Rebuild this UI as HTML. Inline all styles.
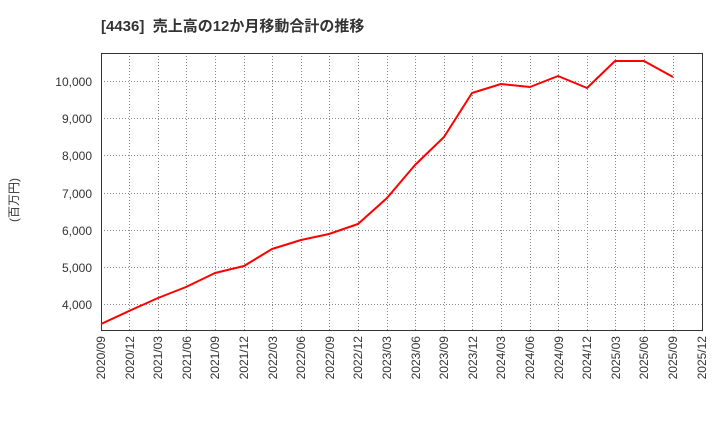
<!DOCTYPE html>
<html><head><meta charset="utf-8"><style>
body{margin:0;background:#fff;}
svg{display:block;font-family:"Liberation Sans","Noto Sans CJK JP",sans-serif;}
</style></head><body>
<svg width="720" height="440" viewBox="0 0 720 440">
<text x="101" y="31" font-size="15" font-weight="bold" fill="#333">[4436]&#160; 売上高の12か月移動合計の推移</text>
<text transform="translate(18,200) rotate(-90)" font-size="12" fill="#333" text-anchor="middle">(百万円)</text>
<g stroke="#888" stroke-width="1" stroke-dasharray="1,2">
<line x1="101" x2="702" y1="81.5" y2="81.5"/>
<line x1="101" x2="702" y1="118.5" y2="118.5"/>
<line x1="101" x2="702" y1="155.5" y2="155.5"/>
<line x1="101" x2="702" y1="193.5" y2="193.5"/>
<line x1="101" x2="702" y1="230.5" y2="230.5"/>
<line x1="101" x2="702" y1="267.5" y2="267.5"/>
<line x1="101" x2="702" y1="304.5" y2="304.5"/>
<line x1="129.5" x2="129.5" y1="53" y2="330"/>
<line x1="158.5" x2="158.5" y1="53" y2="330"/>
<line x1="186.5" x2="186.5" y1="53" y2="330"/>
<line x1="215.5" x2="215.5" y1="53" y2="330"/>
<line x1="244.5" x2="244.5" y1="53" y2="330"/>
<line x1="272.5" x2="272.5" y1="53" y2="330"/>
<line x1="301.5" x2="301.5" y1="53" y2="330"/>
<line x1="329.5" x2="329.5" y1="53" y2="330"/>
<line x1="358.5" x2="358.5" y1="53" y2="330"/>
<line x1="387.5" x2="387.5" y1="53" y2="330"/>
<line x1="415.5" x2="415.5" y1="53" y2="330"/>
<line x1="444.5" x2="444.5" y1="53" y2="330"/>
<line x1="472.5" x2="472.5" y1="53" y2="330"/>
<line x1="501.5" x2="501.5" y1="53" y2="330"/>
<line x1="530.5" x2="530.5" y1="53" y2="330"/>
<line x1="558.5" x2="558.5" y1="53" y2="330"/>
<line x1="587.5" x2="587.5" y1="53" y2="330"/>
<line x1="615.5" x2="615.5" y1="53" y2="330"/>
<line x1="644.5" x2="644.5" y1="53" y2="330"/>
<line x1="673.5" x2="673.5" y1="53" y2="330"/>
</g>
<rect x="101.5" y="53.5" width="601" height="277" fill="none" stroke="#333" stroke-width="1"/>
<g font-size="12" fill="#333" text-anchor="end">
<text x="92" y="86">10,000</text><text x="92" y="123">9,000</text><text x="92" y="160">8,000</text>
<text x="92" y="198">7,000</text><text x="92" y="235">6,000</text><text x="92" y="272">5,000</text><text x="92" y="309">4,000</text>
</g>
<g font-size="12" fill="#333" text-anchor="end">
<text transform="translate(105,336) rotate(-90)">2020/09</text>
<text transform="translate(134,336) rotate(-90)">2020/12</text>
<text transform="translate(162,336) rotate(-90)">2021/03</text>
<text transform="translate(191,336) rotate(-90)">2021/06</text>
<text transform="translate(219,336) rotate(-90)">2021/09</text>
<text transform="translate(248,336) rotate(-90)">2021/12</text>
<text transform="translate(277,336) rotate(-90)">2022/03</text>
<text transform="translate(305,336) rotate(-90)">2022/06</text>
<text transform="translate(334,336) rotate(-90)">2022/09</text>
<text transform="translate(362,336) rotate(-90)">2022/12</text>
<text transform="translate(391,336) rotate(-90)">2023/03</text>
<text transform="translate(420,336) rotate(-90)">2023/06</text>
<text transform="translate(448,336) rotate(-90)">2023/09</text>
<text transform="translate(477,336) rotate(-90)">2023/12</text>
<text transform="translate(505,336) rotate(-90)">2024/03</text>
<text transform="translate(534,336) rotate(-90)">2024/06</text>
<text transform="translate(563,336) rotate(-90)">2024/09</text>
<text transform="translate(591,336) rotate(-90)">2024/12</text>
<text transform="translate(620,336) rotate(-90)">2025/03</text>
<text transform="translate(648,336) rotate(-90)">2025/06</text>
<text transform="translate(677,336) rotate(-90)">2025/09</text>
<text transform="translate(706,336) rotate(-90)">2025/12</text>
</g>
<polyline fill="none" stroke="#f00" stroke-width="2" stroke-linejoin="round"
points="101,324 129,311 158,298 186,287 215,273 244,266 272,249 301,240 329,234 358,224 387,198 415,165 444,137 472,93 501,84 530,87 558,76 587,88 615,61 644,61 673,77"/>
</svg>
</body></html>
